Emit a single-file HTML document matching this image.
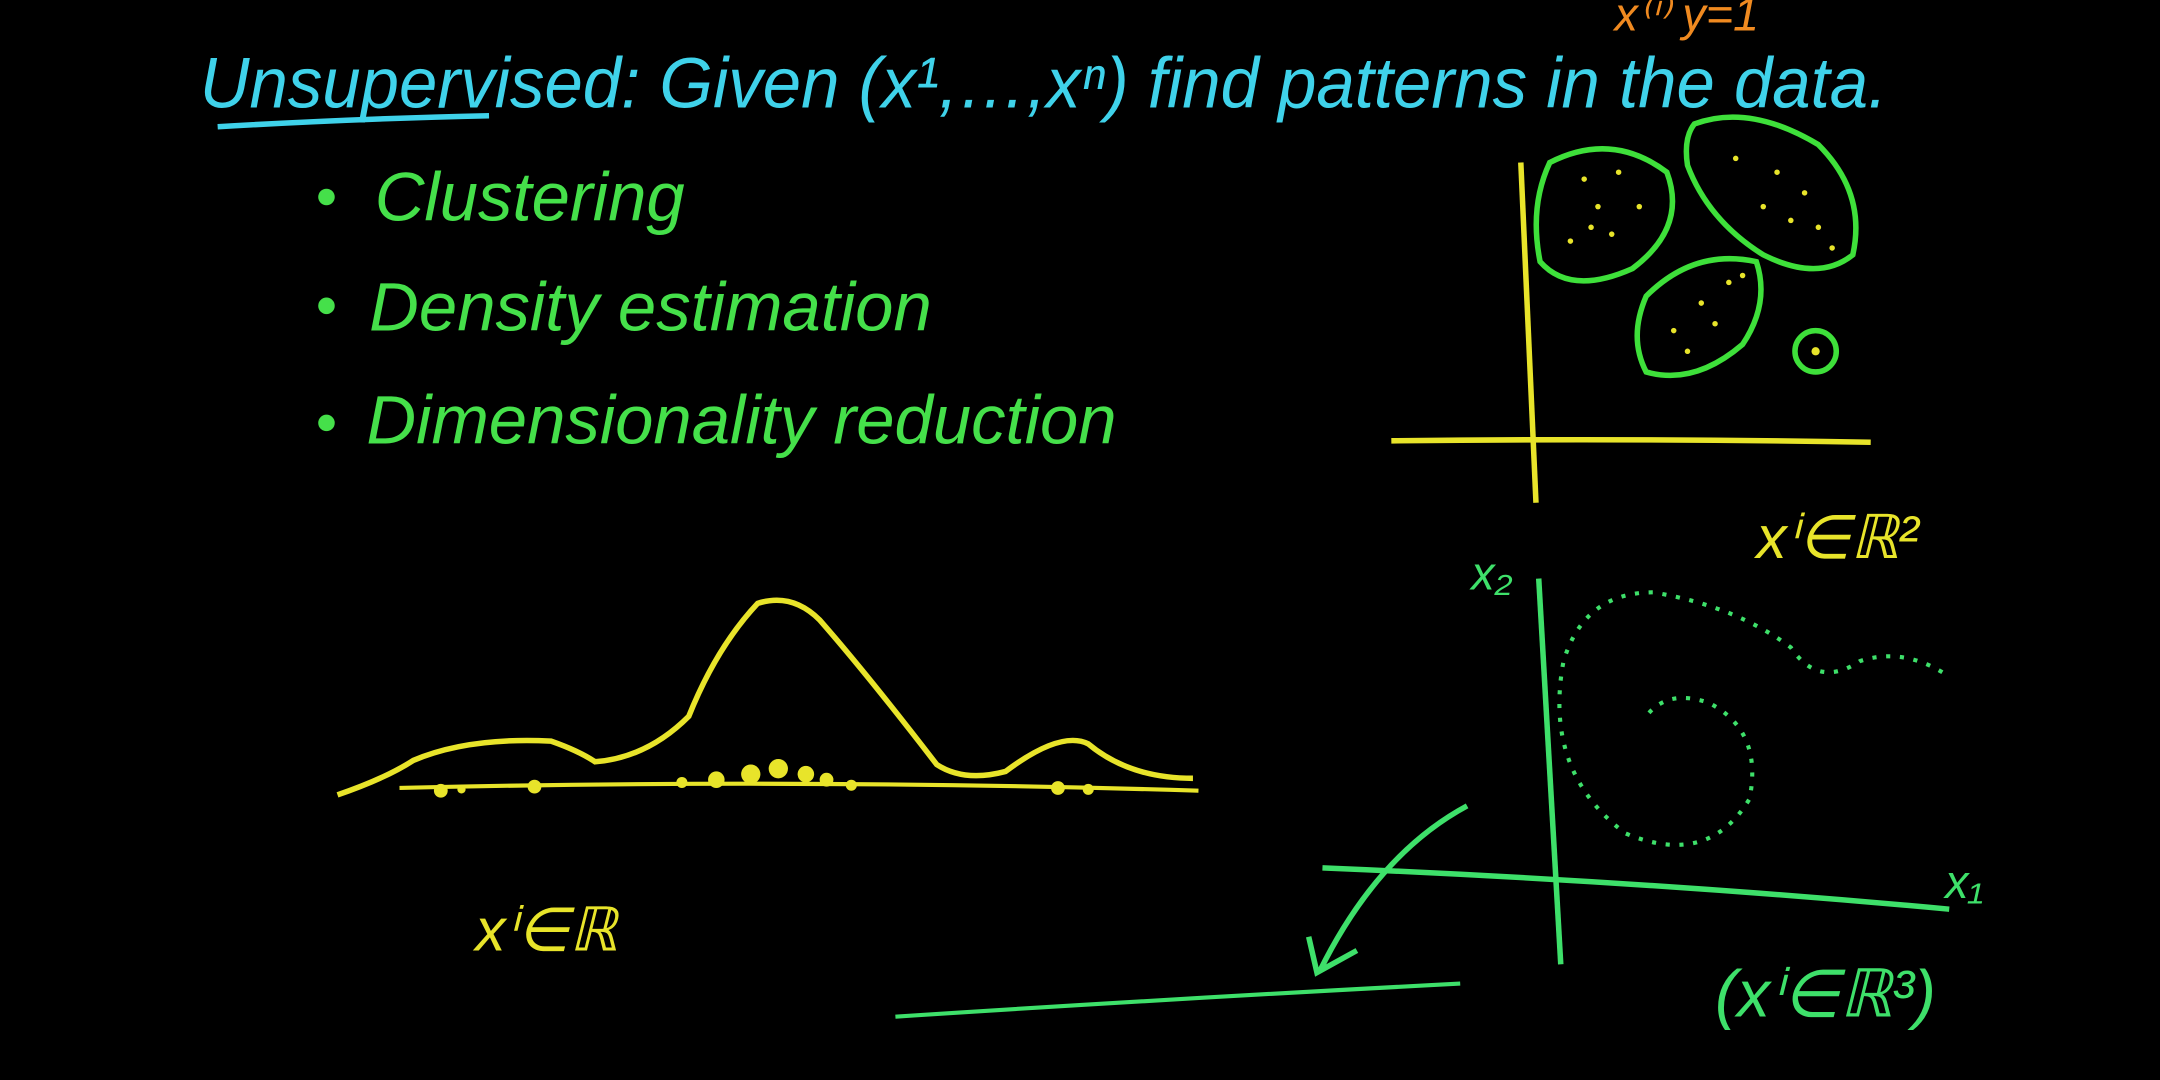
<!DOCTYPE html>
<html><head><meta charset="utf-8"><style>
html,body{margin:0;padding:0;background:#000;width:2160px;height:1080px;overflow:hidden}
svg{display:block}
text{font-family:"Liberation Sans",sans-serif;font-style:italic}
</style></head><body>
<svg width="2160" height="1080" viewBox="0 0 1568 784" xmlns="http://www.w3.org/2000/svg">
<rect width="1568" height="784" fill="#000"/>
<defs>
<filter id="glow"><feGaussianBlur stdDeviation="0.6"/></filter>
</defs>
<g fill="#3fd2ea">
<text x="145" y="78" font-size="52" textLength="1225" lengthAdjust="spacingAndGlyphs">Unsupervised: Given (x¹,…,xⁿ) find patterns in the data.</text>
<path d="M158 92 Q260 86 355 84" stroke="#3fd2ea" stroke-width="4" fill="none"/>
</g>
<text x="1172" y="22" font-size="34" fill="#f08a20">x⁽ⁱ⁾  y=1</text>
<g fill="#45e04a" font-size="50">
<circle cx="237" cy="143" r="6"/><text x="272" y="160">Clustering</text>
<circle cx="237" cy="222" r="6"/><text x="268" y="240">Density estimation</text>
<circle cx="237" cy="307" r="6"/><text x="266" y="322">Dimensionality reduction</text>
</g>
<g>
<path d="M1104 118 L1115 365" stroke="#e8e42a" stroke-width="4" fill="none"/>
<path d="M1010 320 Q1180 318 1358 321" stroke="#e8e42a" stroke-width="4" fill="none"/>
<g stroke="#3ee03a" stroke-width="4" fill="none">
<path d="M1125 118 Q1170 95 1210 125 Q1225 165 1185 195 Q1140 215 1118 190 Q1110 150 1125 118Z"/>
<path d="M1230 90 Q1270 75 1320 105 Q1355 140 1345 185 Q1320 205 1280 185 Q1240 160 1225 120 Q1222 100 1230 90Z"/>
<path d="M1195 215 Q1230 180 1275 190 Q1285 220 1265 250 Q1230 280 1195 270 Q1182 245 1195 215Z"/>
<circle cx="1318" cy="255" r="15"/>
</g>
<g fill="#e8e42a">
<circle cx="1150" cy="130" r="2"/><circle cx="1175" cy="125" r="2"/><circle cx="1160" cy="150" r="2"/><circle cx="1190" cy="150" r="2"/><circle cx="1140" cy="175" r="2"/><circle cx="1170" cy="170" r="2"/><circle cx="1155" cy="165" r="2"/>
<circle cx="1260" cy="115" r="2"/><circle cx="1290" cy="125" r="2"/><circle cx="1310" cy="140" r="2"/><circle cx="1280" cy="150" r="2"/><circle cx="1320" cy="165" r="2"/><circle cx="1300" cy="160" r="2"/><circle cx="1330" cy="180" r="2"/>
<circle cx="1215" cy="240" r="2"/><circle cx="1235" cy="220" r="2"/><circle cx="1255" cy="205" r="2"/><circle cx="1245" cy="235" r="2"/><circle cx="1225" cy="255" r="2"/><circle cx="1265" cy="200" r="2"/>
<circle cx="1318" cy="255" r="3"/>
</g>
<text x="1275" y="405" font-size="44" fill="#e8e42a">xⁱ∈ℝ²</text>
</g>
<g>
<path d="M245 577 Q280 565 300 552 Q340 535 400 538 Q420 545 432 553 Q470 550 500 520 Q520 470 550 438 Q575 430 595 450 Q630 490 680 555 Q700 568 730 560 Q770 530 790 540 Q820 565 866 565" stroke="#e8e42a" stroke-width="4" fill="none"/>
<path d="M290 572 Q580 565 870 574" stroke="#e8e42a" stroke-width="3" fill="none"/>
<g fill="#e8e42a">
<circle cx="320" cy="574" r="5"/><circle cx="335" cy="573" r="3"/><circle cx="388" cy="571" r="5"/><circle cx="495" cy="568" r="4"/><circle cx="520" cy="566" r="6"/><circle cx="545" cy="562" r="7"/><circle cx="565" cy="558" r="7"/><circle cx="585" cy="562" r="6"/><circle cx="600" cy="566" r="5"/><circle cx="618" cy="570" r="4"/><circle cx="768" cy="572" r="5"/><circle cx="790" cy="573" r="4"/>
</g>
<text x="345" y="690" font-size="44" fill="#e8e42a">xⁱ∈ℝ</text>
</g>
<g stroke="#3ee06a" fill="none">
<path d="M1117 420 L1133 700" stroke-width="4"/>
<path d="M960 630 Q1200 640 1415 660" stroke-width="4"/>
<path d="M1410 488 Q1380 470 1350 480 Q1320 500 1300 470 Q1260 440 1200 430 Q1150 430 1135 480 Q1120 560 1180 605 Q1240 630 1270 580 Q1280 530 1240 510 Q1210 500 1195 520" stroke-width="3" stroke-dasharray="3 7"/>
<path d="M1065 585 Q1000 620 958 705" stroke-width="4"/>
<path d="M950 680 L956 706 L985 690" stroke-width="4"/>
<path d="M650 738 Q850 725 1060 714" stroke-width="3"/>
<text x="1068" y="428" font-size="34" fill="#3ee06a" stroke="none">x₂</text>
<text x="1412" y="652" font-size="34" fill="#3ee06a" stroke="none">x₁</text>
<text x="1245" y="738" font-size="48" fill="#3ee06a" stroke="none">(xⁱ∈ℝ³)</text>
</g>
</svg>
</body></html>
